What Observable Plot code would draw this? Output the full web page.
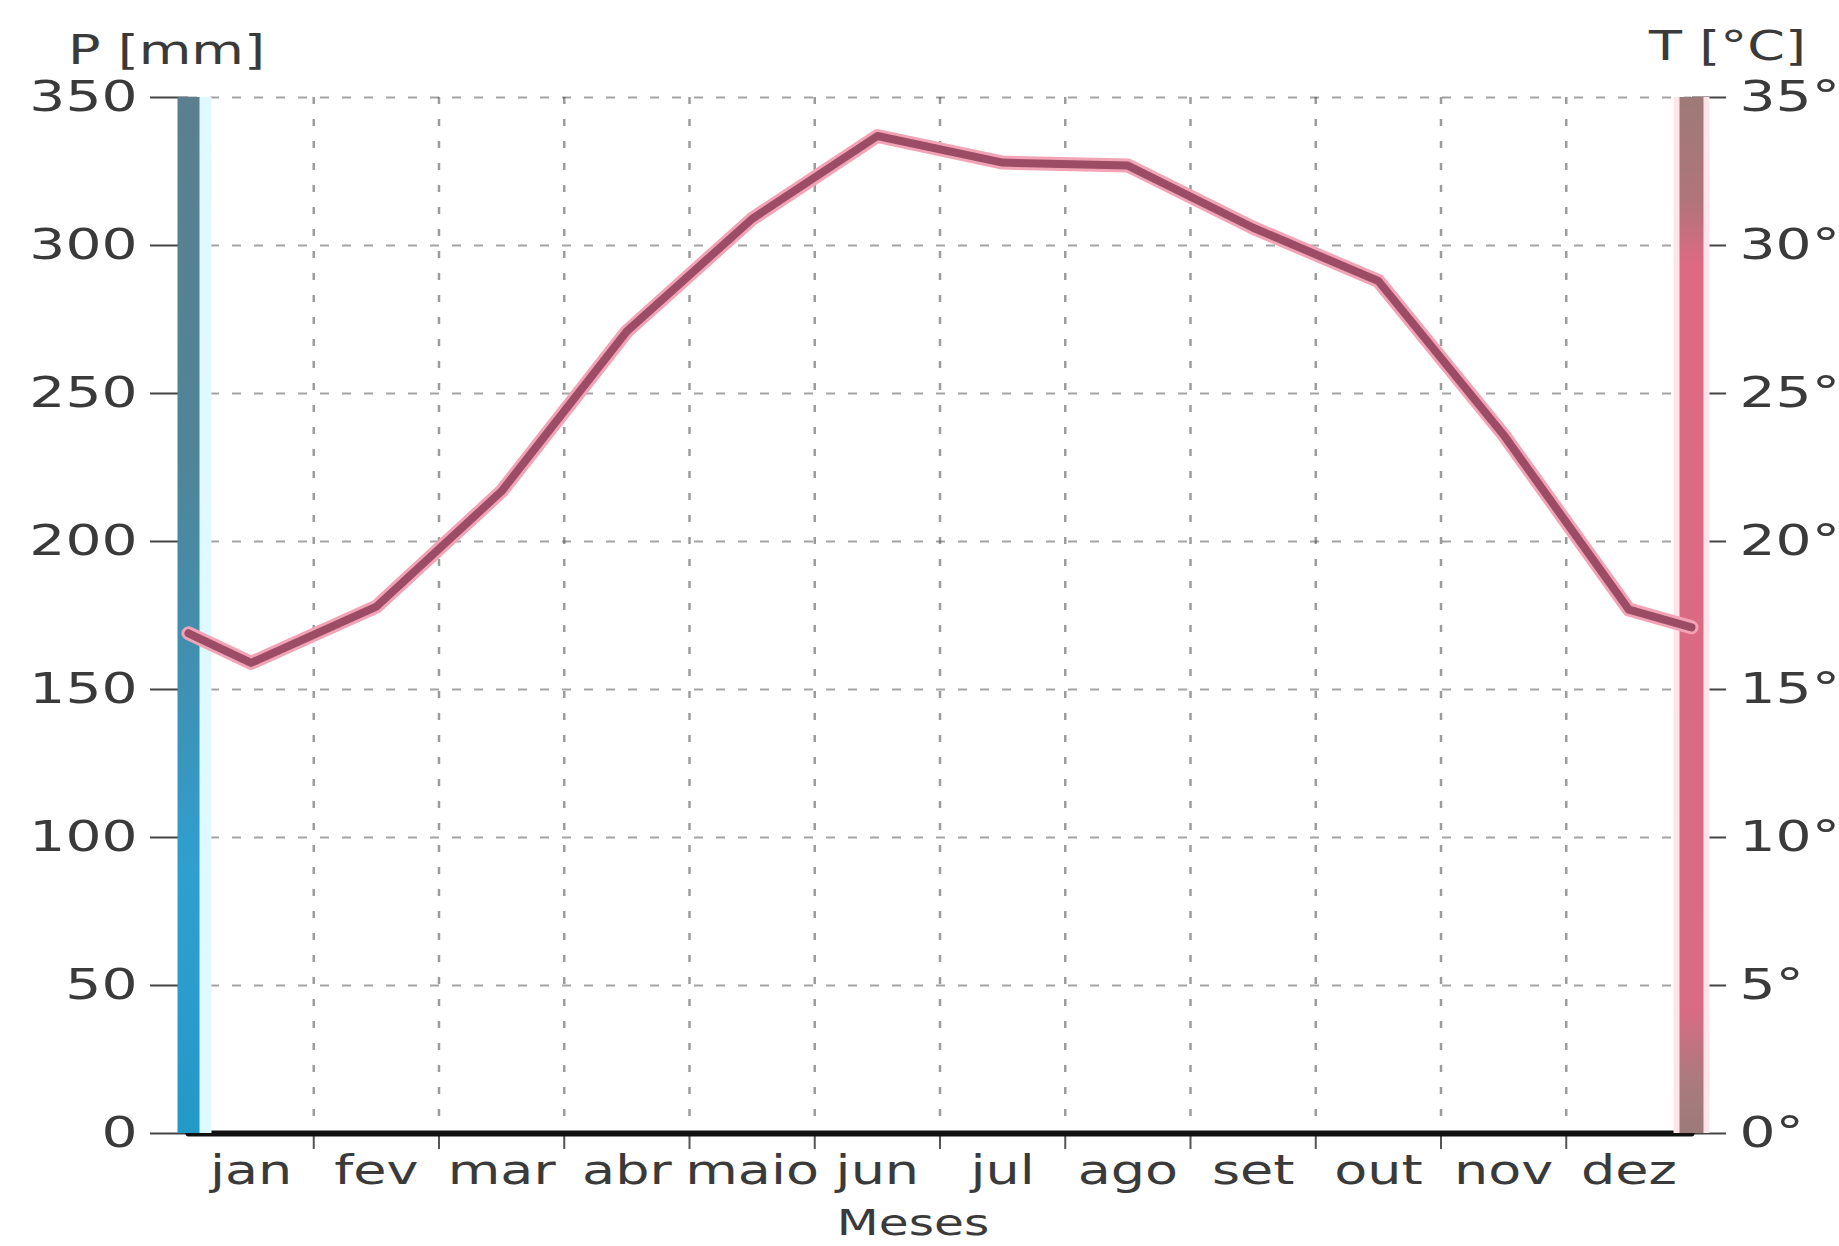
<!DOCTYPE html>
<html>
<head>
<meta charset="utf-8">
<script src="https://cdn.jsdelivr.net/npm/d3@7"></script>
<script src="https://cdn.jsdelivr.net/npm/@observablehq/plot@0.6"></script>
<style>
  html, body { margin: 0; padding: 0; background: #fff; }
</style>
</head>
<body>
<div id="chart"></div>
<script>
// ---- data ----
const months = ["jan", "fev", "mar", "abr", "maio", "jun", "jul", "ago", "set", "out", "nov", "dez"];
const temperature = [15.9, 17.8, 21.7, 27.1, 30.9, 33.7, 32.8, 32.7, 30.6, 28.8, 23.6, 17.7]; // °C
const temperatureEdges = [16.9, 17.1]; // line value where it meets the left / right axis
const precipitation = [0, 0, 0, 0, 0, 0, 0, 0, 0, 0, 0, 0]; // mm
const pTicks = [0, 50, 100, 150, 200, 250, 300, 350];
const tTicks = [0, 5, 10, 15, 20, 25, 30, 35];
const pLabel = "P [mm]";
const tLabel = "T [°C]";
const xLabel = "Meses";

// ---- derived tables ----
const tempSeries = [
  {x: 0, t: temperatureEdges[0]},
  ...temperature.map((t, i) => ({x: i + 0.5, t})),
  {x: months.length, t: temperatureEdges[1]}
];
const precSeries = [
  {x: 0, p: precipitation[0]},
  ...precipitation.map((p, i) => ({x: i + 0.5, p})),
  {x: months.length, p: precipitation[precipitation.length - 1]}
];
const boundaries = d3.range(1, months.length);
const ratio = d3.max(pTicks) / d3.max(tTicks); // mm per °C

const W = 1839, H = 1246;
const textColor = "#3a3a3a";

const plot = Plot.plot({
  width: W,
  height: H,
  marginLeft: 188,
  marginRight: 148,
  marginTop: 97,
  marginBottom: 113,
  style: {fontFamily: "DejaVu Sans", color: textColor, background: "#fff", overflow: "visible"},
  x: {domain: [0, months.length], axis: null},
  y: {domain: [0, d3.max(pTicks)], axis: null},
  marks: [
    // grid
    Plot.gridY(pTicks.filter(d => d > 0), {stroke: "#4a4a4a", strokeOpacity: 0.5, strokeWidth: 2, strokeDasharray: "9,13"}),
    Plot.gridX(boundaries, {stroke: "#4a4a4a", strokeOpacity: 0.55, strokeWidth: 2.5, strokeDasharray: "7,15"}),
    // x ticks at month boundaries
    Plot.axisX(boundaries, {anchor: "bottom", label: null, tickSize: 16, tickFormat: () => "", stroke: "#555", strokeWidth: 2}),
    // left axis (precipitation)
    Plot.axisY(pTicks, {anchor: "left", label: null, tickSize: 38, tickPadding: 13, fontSize: 42, stroke: "#444", strokeWidth: 2, fill: textColor}),
    // right axis (temperature, mapped onto precipitation scale)
    Plot.axisY(pTicks, {anchor: "right", label: null, tickSize: 34, tickPadding: 14, fontSize: 42, stroke: "#444", strokeWidth: 2, fill: textColor,
      tickFormat: d => `${d / ratio}°`}),
    // baseline + precipitation
    Plot.ruleY([0], {stroke: "#222", strokeWidth: 4}),
    Plot.line(precSeries, {x: "x", y: "p", stroke: "#111", strokeWidth: 6}),
    // coloured axis bars
    Plot.ruleX([0], {stroke: "#e0f8ff", strokeWidth: 22, dx: 12}),
    Plot.ruleX([0], {stroke: "url(#pGrad)", strokeWidth: 22}),
    Plot.ruleX([months.length], {stroke: "#ffe4ea", strokeWidth: 36}),
    Plot.ruleX([months.length], {stroke: "url(#tGrad)", strokeWidth: 24}),
    // temperature line
    Plot.line(tempSeries, {x: "x", y: d => d.t * ratio, stroke: "#f3a3b6", strokeWidth: 14, strokeLinejoin: "round", strokeLinecap: "round"}),
    Plot.line(tempSeries, {x: "x", y: d => d.t * ratio, stroke: "#9d4c66", strokeWidth: 8, strokeLinejoin: "round", strokeLinecap: "round"}),
    // month labels
    Plot.text(months, {x: (d, i) => i + 0.5, y: 0, dy: 50, lineAnchor: "bottom", fontSize: 40, fill: textColor}),
    // axis titles
    Plot.text([pLabel], {frameAnchor: "top-left", textAnchor: "middle", lineAnchor: "middle", dx: -22, dy: -46, fontSize: 40, fill: textColor}),
    Plot.text([tLabel], {frameAnchor: "top-right", textAnchor: "middle", lineAnchor: "middle", dx: 36, dy: -50, fontSize: 40, fill: textColor}),
    Plot.text([xLabel], {frameAnchor: "bottom", textAnchor: "middle", lineAnchor: "middle", dx: -27, dy: 90, fontSize: 36, fill: textColor})
  ]
});

document.getElementById("chart").append(plot);

// gradients for the axis bars
const y = plot.scale("y");
const yTop = y.apply(d3.max(pTicks)), yBot = y.apply(0);
const defs = d3.select(plot).insert("defs", ":first-child");
function grad(id, stops) {
  const g = defs.append("linearGradient").attr("id", id).attr("gradientUnits", "userSpaceOnUse")
    .attr("x1", 0).attr("x2", 0).attr("y1", yTop).attr("y2", yBot);
  stops.forEach(([o, c]) => g.append("stop").attr("offset", o).attr("stop-color", c));
}
grad("pGrad", [[0, "#5a7f8e"], [0.35, "#4f8598"], [0.6, "#3c93b8"], [0.75, "#2ea0d0"], [1, "#2399c8"]]);
grad("tGrad", [[0, "#9e7a78"], [0.1, "#b0747a"], [0.16, "#dc6a83"], [0.88, "#d96b84"], [0.95, "#ab7a7e"], [1, "#9c7a7a"]]);

// the reference lettering is horizontally wide: stretch glyphs
plot.querySelectorAll("text").forEach(t => {
  const len = t.getComputedTextLength();
  if (len > 0) {
    t.setAttribute("textLength", (len * 1.35).toFixed(1));
    t.setAttribute("lengthAdjust", "spacingAndGlyphs");
  }
});
</script>
</body>
</html>
